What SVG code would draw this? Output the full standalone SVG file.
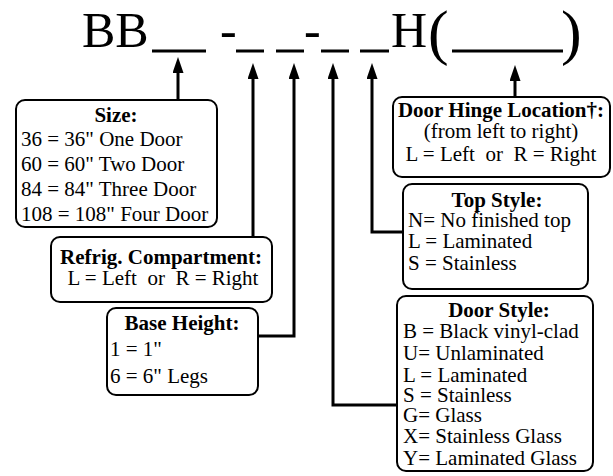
<svg xmlns="http://www.w3.org/2000/svg" width="613" height="476" viewBox="0 0 613 476">
<style>
.box{fill:#fff;stroke:#000;stroke-width:2}
.t{font-family:"Liberation Serif","Times New Roman",serif;font-size:21px;fill:#000;white-space:pre}
.b{font-weight:bold}
.m{text-anchor:middle}
.big{font-family:"Liberation Serif","Times New Roman",serif;fill:#000}
.ul{stroke:#000;stroke-width:3}
.c{fill:none;stroke:#000;stroke-width:3}
</style>
<defs>
<marker id="ah" markerUnits="userSpaceOnUse" markerWidth="16" markerHeight="11" refX="6" refY="5.5" orient="auto">
<path d="M0,0 L16,5.5 L0,11 Z" fill="#000"/>
</marker>
</defs>
<rect width="613" height="476" fill="#fff"/>
<g id="title">
<text class="big" x="82" y="47" font-size="50">BB</text>
<text class="big" x="220" y="47" font-size="50">-</text>
<text class="big" x="304" y="47" font-size="50">-</text>
<text class="big" x="391" y="47" font-size="50">H</text>
<text class="big" x="428" y="53" font-size="62">(</text>
<text class="big" x="561" y="53" font-size="62">)</text>
<line class="ul" x1="152" y1="51" x2="206" y2="51"/>
<line class="ul" x1="236" y1="51" x2="264" y2="51"/>
<line class="ul" x1="276" y1="51" x2="304" y2="51"/>
<line class="ul" x1="321" y1="51" x2="349" y2="51"/>
<line class="ul" x1="360" y1="51" x2="389" y2="51"/>
<line class="ul" x1="452" y1="51" x2="563" y2="51"/>
</g>
<g id="connectors">
<path class="c" d="M178,100 V67" marker-end="url(#ah)"/>
<path class="c" d="M253,237 V73" marker-end="url(#ah)"/>
<path class="c" d="M258,336 H294 V73" marker-end="url(#ah)"/>
<path class="c" d="M397,405 H333 V73" marker-end="url(#ah)"/>
<path class="c" d="M403,232 H372 V73" marker-end="url(#ah)"/>
<path class="c" d="M515,97 V75" marker-end="url(#ah)"/>
</g>
<g id="size">
<rect class="box" x="16" y="100" width="201" height="127" rx="9"/>
<text class="t b m" x="116" y="122">Size:</text>
<text class="t" x="21" y="146">36 = 36" One Door</text>
<text class="t" x="21" y="171">60 = 60" Two Door</text>
<text class="t" x="21" y="196">84 = 84" Three Door</text>
<text class="t" x="21" y="221">108 = 108" Four Door</text>
</g>
<g id="refrig">
<rect class="box" x="51" y="237" width="221" height="65" rx="9"/>
<text class="t b m" x="161" y="264">Refrig. Compartment:</text>
<text class="t m" x="163" y="285">L = Left  or  R = Right</text>
</g>
<g id="base">
<rect class="box" x="107" y="308" width="151" height="87" rx="9"/>
<text class="t b m" x="182" y="330">Base Height:</text>
<text class="t" x="110" y="356">1 = 1"</text>
<text class="t" x="110" y="383">6 = 6" Legs</text>
</g>
<g id="hinge">
<rect class="box" x="393" y="97" width="217" height="80" rx="9"/>
<text class="t b m" x="501" y="117">Door Hinge Location†:</text>
<text class="t m" x="501" y="138">(from left to right)</text>
<text class="t m" x="501" y="161">L = Left  or  R = Right</text>
</g>
<g id="top">
<rect class="box" x="403" y="184" width="185" height="105" rx="9"/>
<text class="t b m" x="497" y="207">Top Style:</text>
<text class="t" x="408" y="227">N= No finished top</text>
<text class="t" x="408" y="248">L = Laminated</text>
<text class="t" x="408" y="270">S = Stainless</text>
</g>
<g id="door">
<rect class="box" x="397" y="296" width="196" height="175" rx="9"/>
<text class="t b m" x="499" y="317">Door Style:</text>
<text class="t" x="403" y="338">B = Black vinyl-clad</text>
<text class="t" x="403" y="360">U= Unlaminated</text>
<text class="t" x="403" y="382">L = Laminated</text>
<text class="t" x="403" y="402">S = Stainless</text>
<text class="t" x="403" y="422">G= Glass</text>
<text class="t" x="403" y="443">X= Stainless Glass</text>
<text class="t" x="403" y="465">Y= Laminated Glass</text>
</g>
</svg>
